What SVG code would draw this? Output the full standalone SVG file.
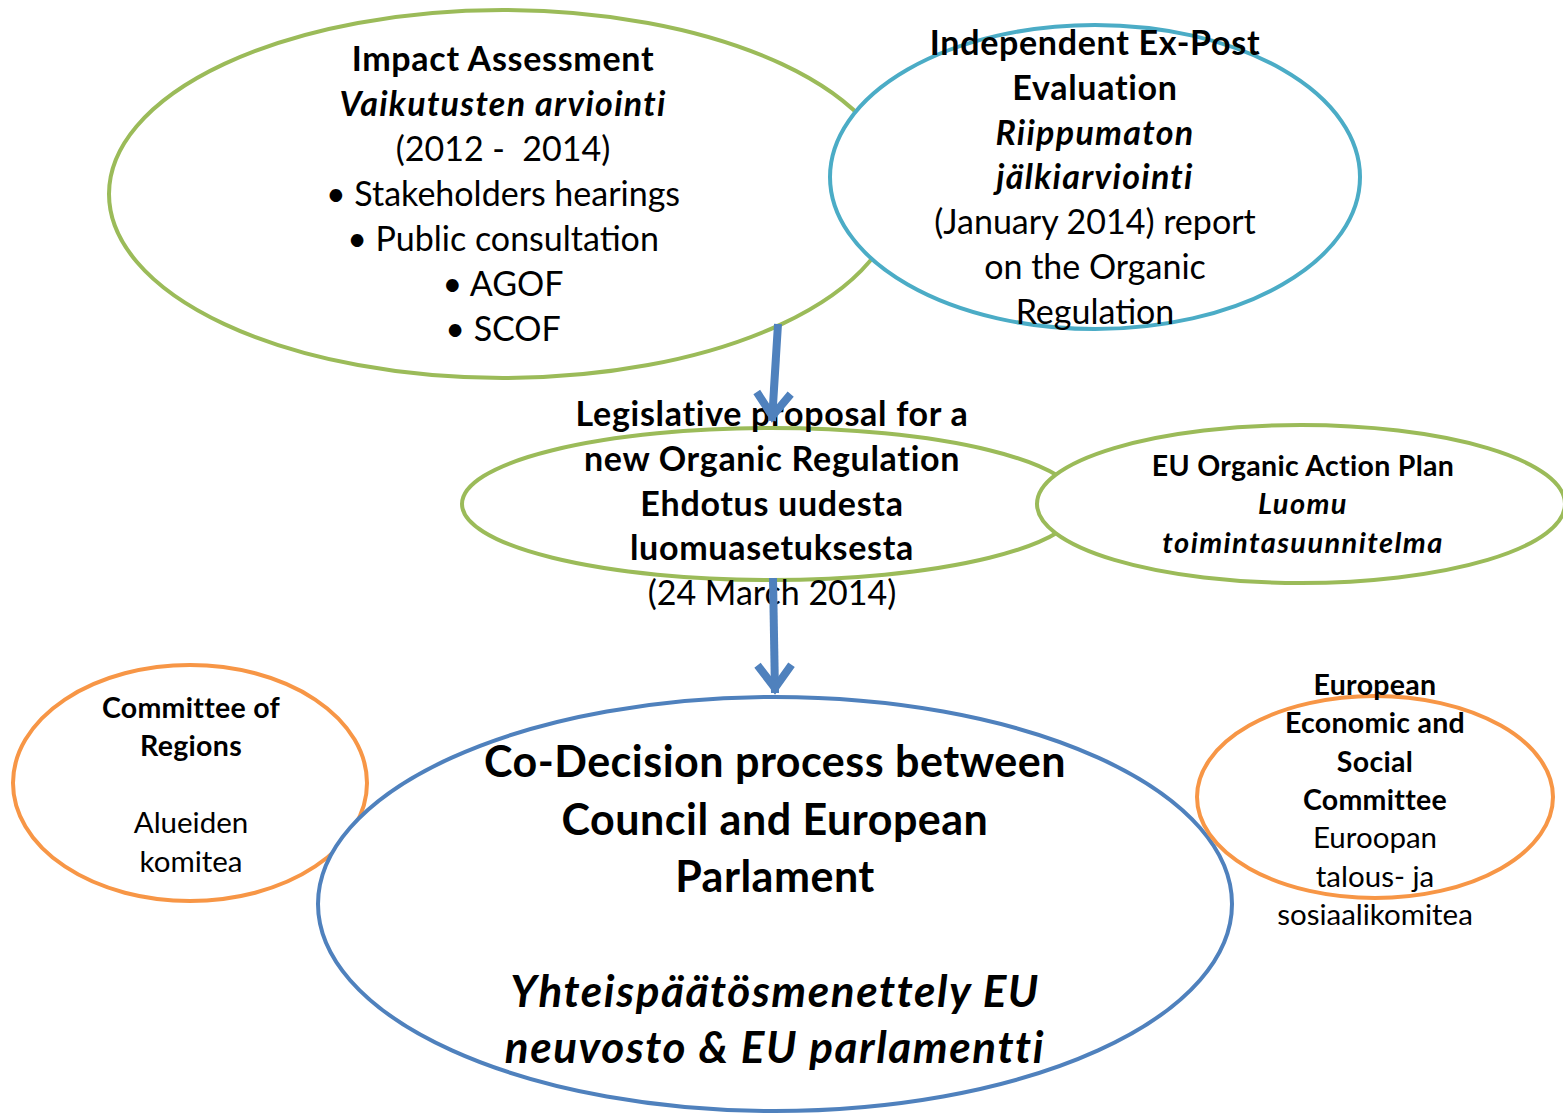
<svg xmlns="http://www.w3.org/2000/svg" width="1563" height="1113" viewBox="0 0 1563 1113">
<style>
text{font-family:Lato,"Noto Sans","Liberation Sans",sans-serif;fill:#000;text-anchor:middle;white-space:pre}
.l{font-size:34px}
.l.b{letter-spacing:.7px}
.l.b.i{letter-spacing:1.3px}
.m{font-size:29.5px}
.m.b{font-size:28.5px;letter-spacing:.3px}
.m.b.i{font-size:29px;letter-spacing:1.4px}
.x{font-size:43px}
.x.b{letter-spacing:.5px}
.x.b.i{font-size:44px;letter-spacing:1.6px}
.b{font-weight:bold}
.i{font-style:italic}
.g{stroke:#9BBB59;stroke-width:4}
.c{stroke:#4BACC6;stroke-width:4}
.d{stroke:#4F81BD;stroke-width:4}
.o{stroke:#F79646;stroke-width:4}
.w{fill:#fff}
.n{fill:none}
.arr{stroke:#4F81BD;stroke-width:8;fill:none;marker-end:url(#open)}
</style>
<defs>
<marker id="open" viewBox="-40 -30 50 60" refX="0" refY="0" markerWidth="50" markerHeight="60" markerUnits="userSpaceOnUse" orient="auto" overflow="visible">
<path d="M-28,-17 L-5,0 L-28,17" fill="none" stroke="#4F81BD" stroke-width="8" stroke-linejoin="miter"/>
</marker>
</defs>
<rect width="1563" height="1113" fill="#fff"/>
<g id="impact">
<ellipse cx="503" cy="194" rx="394" ry="184" class="g w"/>
<text x="503" y="71" class="l b">Impact Assessment</text>
<text x="503" y="116" class="l b i">Vaikutusten arviointi</text>
<text x="503" y="161" class="l">(2012 -  2014)</text>
<text x="503" y="206" class="l">• Stakeholders hearings</text>
<text x="503" y="251" class="l">• Public consultation</text>
<text x="503" y="296" class="l">• AGOF</text>
<text x="503" y="341" class="l">• SCOF</text>
</g>
<g id="expost">
<ellipse cx="1095" cy="177" rx="265" ry="152" class="c w"/>
<text x="1095" y="55" class="l b">Independent Ex-Post</text>
<text x="1095" y="100" class="l b">Evaluation</text>
<text x="1095" y="145" class="l b i">Riippumaton</text>
<text x="1095" y="189" class="l b i">jälkiarviointi</text>
<text x="1095" y="234" class="l">(January 2014) report</text>
<text x="1095" y="279" class="l">on the Organic</text>
<text x="1095" y="324" class="l">Regulation</text>
</g>
<g id="proposal">
<ellipse cx="771" cy="504" rx="309" ry="76" class="g w"/>
<text x="772" y="426" class="l b">Legislative proposal for a</text>
<text x="772" y="471" class="l b">new Organic Regulation</text>
<text x="772" y="516" class="l b">Ehdotus uudesta</text>
<text x="772" y="560" class="l b">luomuasetuksesta</text>
<text x="772" y="605" class="l">(24 March 2014)</text>
</g>
<g id="actionplan">
<ellipse cx="1301" cy="504" rx="264" ry="79" class="g w"/>
<text x="1303" y="476" class="m b">EU Organic Action Plan</text>
<text x="1303" y="514" class="m b i">Luomu</text>
<text x="1303" y="553" class="m b i">toimintasuunnitelma</text>
</g>
<g id="regions">
<ellipse cx="190" cy="783" rx="177" ry="118" class="o w"/>
<text x="191" y="718" class="m b">Committee of</text>
<text x="191" y="756" class="m b">Regions</text>
<text x="191" y="833" class="m">Alueiden</text>
<text x="191" y="872" class="m">komitea</text>
</g>
<g id="codecision">
<ellipse cx="775" cy="904" rx="457" ry="207" class="d w"/>
<text x="775" y="777" class="x b">Co-Decision process between</text>
<text x="775" y="835" class="x b">Council and European</text>
<text x="775" y="892" class="x b">Parlament</text>
<text x="775" y="1007" class="x b i">Yhteispäätösmenettely EU</text>
<text x="775" y="1063" class="x b i">neuvosto &amp; EU parlamentti</text>
</g>
<g id="eesc">
<ellipse cx="1375" cy="797" rx="178" ry="101" class="o n"/>
<text x="1375" y="695" class="m b">European</text>
<text x="1375" y="733" class="m b">Economic and</text>
<text x="1375" y="772" class="m b">Social</text>
<text x="1375" y="810" class="m b">Committee</text>
<text x="1375" y="848" class="m">Euroopan</text>
<text x="1375" y="887" class="m">talous- ja</text>
<text x="1375" y="925" class="m">sosiaalikomitea</text>
</g>
<g id="connectors">
<line x1="778" y1="324" x2="772" y2="421" class="arr"/>
<line x1="773" y1="578" x2="775" y2="693" class="arr"/>
</g>
</svg>
